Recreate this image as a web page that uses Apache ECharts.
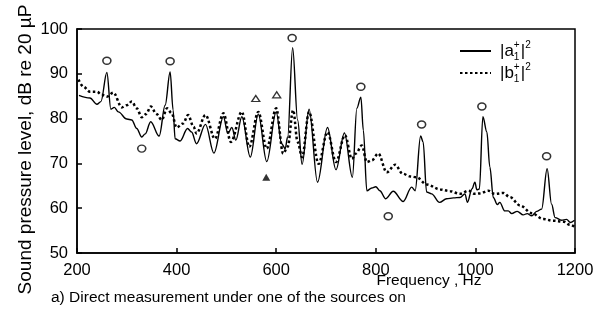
<!DOCTYPE html>
<html><head><meta charset="utf-8">
<script src="https://cdn.jsdelivr.net/npm/echarts@6/dist/echarts.min.js"></script>
<style>html,body{margin:0;padding:0;background:#fff}#c{width:602px;height:323px}</style>
</head><body><div id="c"></div>
<script>
// |a1+|^2 (solid)
var freqA = [204,226,240,248,260,268,275,283,300,310,320,330,337,348,365,377,387,393,397,407,422,430,440,458,475,494,503,511,519,531,548,564,581,600,611,618,623,633,643,652,666,683,703,720,737,753,762,770,775,782,792,800,808,820,835,855,872,879,890,895,902,912,928,942,956,969,979,984,993,999,1003,1008,1015,1023,1029,1036,1044,1049,1059,1066,1073,1084,1096,1104,1113,1123,1133,1144,1153,1160,1173,1183,1191,1199];
var levelA = [85.2,84.6,83.2,83.8,90.3,82.1,82.5,81.5,79.9,79.7,77.8,75.9,76.6,79.3,76.1,83.0,90.4,81.9,75.5,75.0,77.8,77.0,74.4,78.7,72.3,80.4,76.7,78.0,75.2,80.4,71.4,81.0,70.4,81.5,74.4,73.3,75.9,95.8,79.7,69.8,82.1,65.8,78.0,68.6,76.8,66.9,82.3,84.8,77.4,63.9,64.5,64.8,63.9,62.1,63.8,61.5,64.7,63.9,76.1,74.8,63.6,63.2,61.3,62.1,62.3,62.4,63.2,61.3,64.3,65.8,64.1,64.3,80.4,77.0,69.2,62.4,60.8,61.3,59.4,59.4,58.8,59.3,58.5,58.8,58.3,59.3,59.8,68.8,60.9,57.9,57.3,57.5,56.8,57.3];
// |b1+|^2 (dotted)
var freqB = [203,213,226,240,250,260,273,290,300,310,320,330,339,348,360,370,381,390,400,413,423,434,440,458,477,494,509,531,546,564,581,600,614,623,634,643,652,666,685,703,720,738,752,760,772,782,792,805,822,839,854,869,882,902,929,949,969,986,999,1009,1026,1039,1056,1069,1090,1113,1136,1156,1177,1190,1200];
var levelB = [88.7,87.1,86.0,86.0,85.3,84.9,85.8,82.5,83.0,83.8,82.3,80.3,81.0,82.7,81.0,79.7,82.3,81.2,78.0,78.9,80.8,78.2,76.7,80.8,75.5,81.2,74.8,81.5,73.7,81.5,73.3,82.3,72.2,73.7,81.9,74.8,71.4,81.5,69.9,77.0,70.3,76.3,71.0,72.2,74.0,70.3,70.7,72.2,68.0,69.7,67.7,67.1,66.9,65.3,64.2,63.8,63.2,63.9,63.2,63.3,63.9,63.2,63.4,62.5,60.6,58.9,57.6,57.2,57.0,56.3,55.8];
// annotation markers
var circleFreq = [260,387,330,632,770,825,892,1013,1143];
var circleLevel = [92.9,92.8,73.3,98.0,87.1,58.2,78.7,82.7,71.6];
var openTriFreq = [559,601];
var openTriLevel = [84.5,85.3];
var solidTriFreq = [580];
var solidTriLevel = [66.9];
var xTicks = [200,400,600,800,1000,1200];
var yTicks = [50,60,70,80,90,100];

function pairs(xs, ys){ return xs.map(function(x,i){ return [x, ys[i]]; }); }

var FONT = 'Liberation Sans, Arial, sans-serif';
var chart = echarts.init(document.getElementById('c'), null, {renderer:'canvas'});
var nameA = '|a₁⁺|²', nameB = '|b₁⁺|²';
chart.setOption({
  animation: false,
  backgroundColor: '#fff',
  textStyle: {fontFamily: FONT, color: '#000'},
  title: {
    text: 'a) Direct measurement under one of the sources on',
    left: 46, top: 285,
    textStyle: {fontFamily: FONT, fontSize: 15.5, fontWeight: 'normal', color: '#000'}
  },
  grid: {left: 77, right: 27, top: 29, bottom: 70, show: true, borderColor: '#000', borderWidth: 1.5, backgroundColor: 'transparent'},
  legend: {
    orient: 'vertical', left: 454, top: 35, itemWidth: 31, itemHeight: 14, itemGap: 0,
    data: [nameA, nameB],
    itemStyle: {opacity: 0},
    formatter: function(n){
      var l = n === nameA ? 'a' : 'b';
      return '{t||' + l + '}{sp|+}{sb|1}{t||}{sq|2}';
    },
    textStyle: {
      padding: [0,0,0,4],
      rich: {
        t: {fontFamily: FONT, fontSize: 17, lineHeight: 22, color: '#000'},
        sp: {fontFamily: FONT, fontSize: 10, lineHeight: 11, width: 0, verticalAlign: 'top', color: '#000'},
        sb: {fontFamily: FONT, fontSize: 10, lineHeight: 11, width: 7, verticalAlign: 'bottom', color: '#000'},
        sq: {fontFamily: FONT, fontSize: 10, lineHeight: 11, verticalAlign: 'top', color: '#000'}
      }
    }
  },
  xAxis: {
    type: 'value', min: 200, max: 1200, interval: 200,
    name: 'Frequency , Hz', nameLocation: 'middle', nameGap: 20, nameMoveOverlap: false,
    nameTextStyle: {fontFamily: FONT, fontSize: 15.5, color: '#000', padding: [0,0,0,206]},
    axisLine: {lineStyle: {color: '#000', width: 1.5}},
    axisTick: {inside: true, length: 5, lineStyle: {color: '#000', width: 1.5}},
    axisLabel: {fontFamily: FONT, fontSize: 16.5, color: '#000', margin: 9,
      formatter: function(v){ return xTicks.indexOf(v) >= 0 ? String(v) : ''; }},
    splitLine: {show: false}
  },
  yAxis: {
    type: 'value', min: 50, max: 100, interval: 10,
    name: 'Sound pressure level, dB re 20 µP', nameLocation: 'middle', nameGap: 42, nameMoveOverlap: false,
    nameTextStyle: {fontFamily: FONT, fontSize: 19, color: '#000', padding: [0,17,0,0]},
    axisLine: {lineStyle: {color: '#000', width: 1.5}},
    axisTick: {inside: true, length: 5, lineStyle: {color: '#000', width: 1.5}},
    axisLabel: {fontFamily: FONT, fontSize: 16.5, color: '#000', margin: 9,
      formatter: function(v){ return yTicks.indexOf(v) >= 0 ? String(v) : ''; }},
    splitLine: {show: false}
  },
  series: [
    {name: nameA, type: 'line', data: pairs(freqA, levelA), symbol: 'none', smooth: 0.35, smoothMonotone: 'x',
     lineStyle: {color: '#000', width: 1.4}, itemStyle: {color: '#000'}, z: 3},
    {name: nameB, type: 'line', data: pairs(freqB, levelB), symbol: 'none', smooth: 0.35, smoothMonotone: 'x',
     lineStyle: {color: '#000', width: 2.5, type: [2.5, 2.5]}, itemStyle: {color: '#000'}, z: 2},
    {name: 'circles', type: 'scatter', data: pairs(circleFreq, circleLevel), symbol: 'circle', symbolSize: [8,7],
     itemStyle: {color: '#fff', borderColor: '#000', borderWidth: 1.5}, z: 4},
    {name: 'openTri', type: 'scatter', data: pairs(openTriFreq, openTriLevel), symbol: 'triangle', symbolSize: [8,6],
     itemStyle: {color: '#fff', borderColor: '#000', borderWidth: 1.3}, z: 4},
    {name: 'solidTri', type: 'scatter', data: pairs(solidTriFreq, solidTriLevel), symbol: 'triangle', symbolSize: [8,7],
     itemStyle: {color: '#000'}, z: 4}
  ]
});
</script></body></html>
